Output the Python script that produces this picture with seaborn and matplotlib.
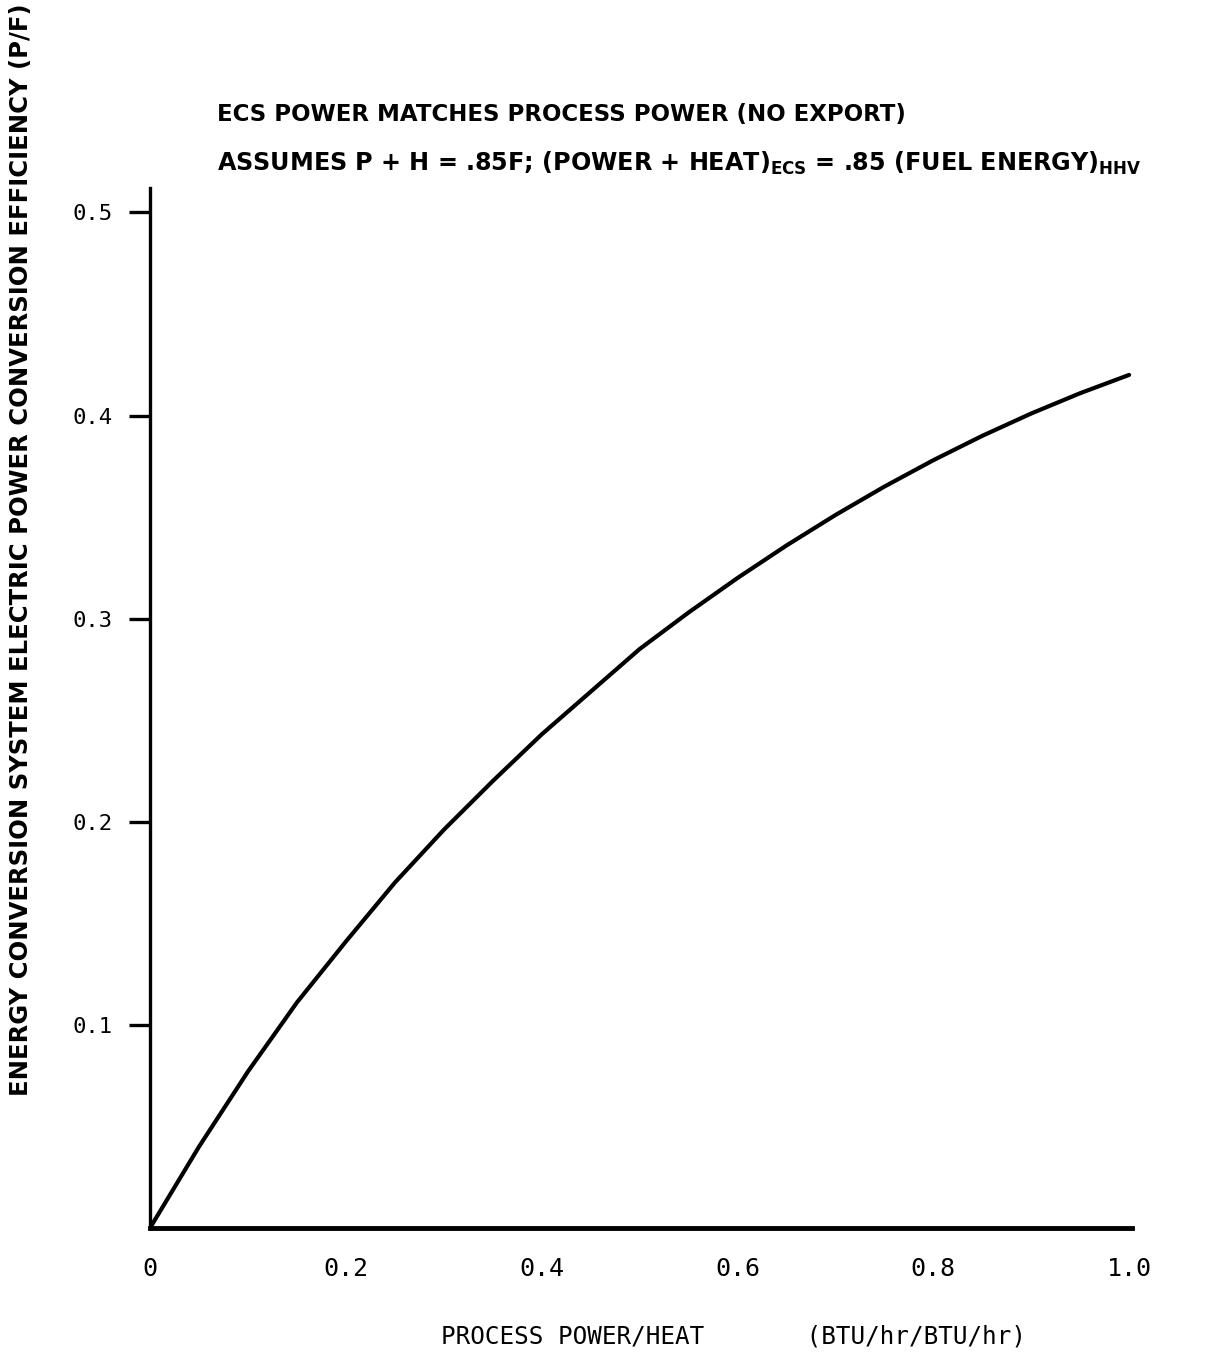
import matplotlib
matplotlib.use("Agg")
import matplotlib.pyplot as plt
import seaborn as sns
import pandas as pd

# values
ratio = [0.0, 0.05, 0.1, 0.15, 0.2, 0.25, 0.3, 0.35, 0.4, 0.45, 0.5,
         0.55, 0.6, 0.65, 0.7, 0.75, 0.8, 0.85, 0.9, 0.95, 1.0]
efficiency = [0.0, 0.040, 0.077, 0.111, 0.141, 0.170, 0.196, 0.220, 0.243, 0.264, 0.285,
              0.303, 0.320, 0.336, 0.351, 0.365, 0.378, 0.390, 0.401, 0.411, 0.420]
x_ticks = [0, 0.2, 0.4, 0.6, 0.8, 1.0]
x_labels = ["0", "0.2", "0.4", "0.6", "0.8", "1.0"]
y_ticks = [0.1, 0.2, 0.3, 0.4, 0.5]
y_labels = ["0.1", "0.2", "0.3", "0.4", "0.5"]

df = pd.DataFrame({"ratio": ratio, "eff": efficiency})

sns.set_theme(style="white")
plt.rcParams['font.family'] = ['DejaVu Sans']
plt.rcParams['text.color'] = 'black'
plt.rcParams['xtick.color'] = 'black'
plt.rcParams['ytick.color'] = 'black'

fig = plt.figure(figsize=(12.07, 13.54), dpi=100)
ax = fig.add_axes([0.1243, 0.0931, 0.8136, 0.768])

sns.lineplot(data=df, x="ratio", y="eff", color="black", linewidth=3.0, ax=ax)

ax.set_xlim(0, 1.003)
ax.set_ylim(0, 0.512)
ax.set_xticks(x_ticks)
ax.set_xticklabels(x_labels, family="DejaVu Sans Mono", fontsize=18, color="black")
ax.set_yticks(y_ticks)
ax.set_yticklabels(y_labels, family="DejaVu Sans Mono", fontsize=16, color="black")
ax.tick_params(axis="x", length=0, pad=21)
ax.tick_params(axis="y", length=15, width=2.4, pad=12, color="black", left=True)
ax.set_xlabel("")
ax.set_ylabel("")

for s in ["top", "right"]:
    ax.spines[s].set_visible(False)
ax.spines["left"].set_linewidth(2.4)
ax.spines["left"].set_color("black")
ax.spines["bottom"].set_linewidth(3.5)
ax.spines["bottom"].set_color("black")

fig.text(0.180, 0.911, "ECS POWER MATCHES PROCESS POWER (NO EXPORT)",
         fontsize=16.5, fontweight="bold", ha="left", va="baseline", color="black")
fig.text(0.180, 0.874,
         r"ASSUMES P + H = .85F; (POWER + HEAT)$_{\mathbf{ECS}}$ = .85 (FUEL ENERGY)$_{\mathbf{HHV}}$",
         fontsize=17.2, fontweight="bold", ha="left", va="baseline", color="black")

fig.text(0.017, 0.594, "ENERGY CONVERSION SYSTEM ELECTRIC POWER CONVERSION EFFICIENCY (P/F)",
         fontsize=17.5, fontweight="bold", rotation=90, ha="center", va="center", color="black")
fig.text(0.608, 0.0126, "PROCESS POWER/HEAT       (BTU/hr/BTU/hr)",
         fontsize=17.5, family="DejaVu Sans Mono", ha="center", va="center", color="black")

fig.savefig("out.png", dpi=100, facecolor="white")
